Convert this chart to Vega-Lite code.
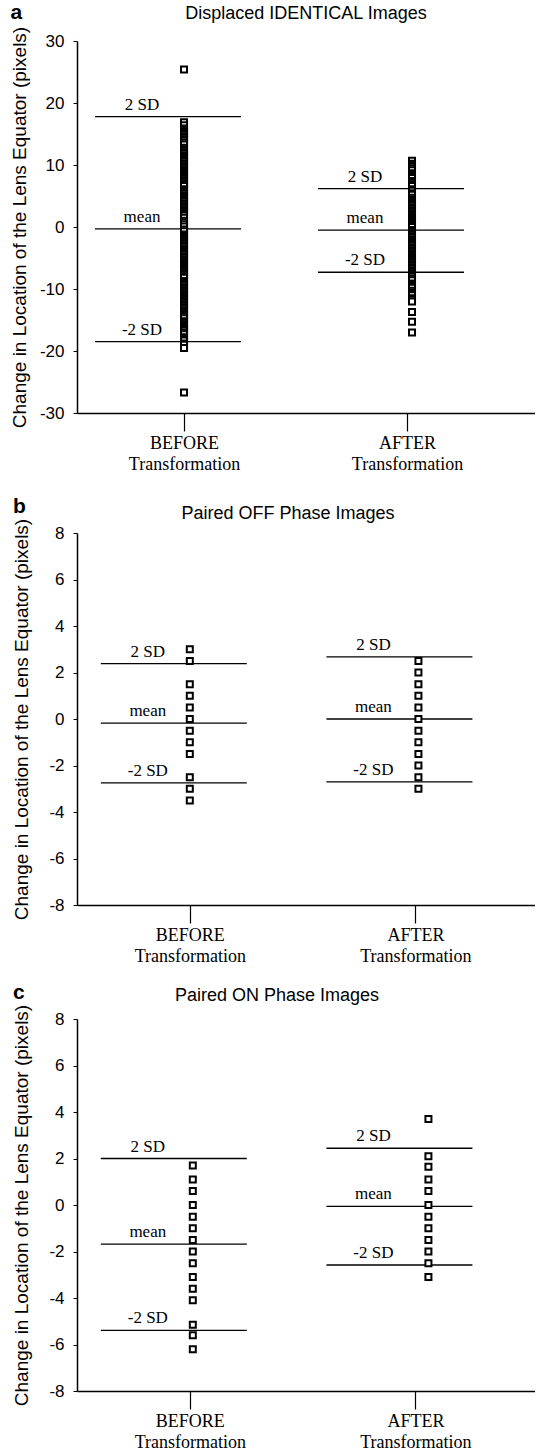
{
  "$schema": "https://vega.github.io/schema/vega-lite/v6.json",
  "padding": {"left": 10, "top": 2, "right": 0, "bottom": 0},
  "autosize": {"type": "pad"},
  "config": {
    "view": {"stroke": null},
    "font": "Liberation Sans",
    "axis": {"grid": false, "domainColor": "#000", "domainWidth": 1.5, "tickColor": "#000", "labelColor": "#000", "titleColor": "#000", "labelFont": "Liberation Sans", "labelFontSize": 17, "titleFont": "Liberation Sans", "titleFontSize": 19, "titleFontWeight": "normal"},
    "title": {"font": "Liberation Sans", "fontSize": 18, "fontWeight": "normal", "color": "#000"},
    "point": {"shape": "square", "filled": true, "fill": "#fff", "stroke": "#000", "strokeWidth": 2, "size": 36, "opacity": 1},
    "text": {"font": "Liberation Serif", "fontSize": 17, "dx": -42, "dy": -3, "baseline": "bottom", "align": "center", "color": "#000"}
  },
  "datasets": {
    "la": [{"g":1,"k":"2 SD","v":17.8},{"g":1,"k":"mean","v":-0.3},{"g":1,"k":"-2 SD","v":-18.5},{"g":2,"k":"2 SD","v":6.2},{"g":2,"k":"mean","v":-0.5},{"g":2,"k":"-2 SD","v":-7.3}],
    "lb": [{"g":1,"k":"2 SD","v":2.38},{"g":1,"k":"mean","v":-0.18},{"g":1,"k":"-2 SD","v":-2.75},{"g":2,"k":"2 SD","v":2.67},{"g":2,"k":"mean","v":0.0},{"g":2,"k":"-2 SD","v":-2.7}],
    "lc": [{"g":1,"k":"2 SD","v":2.0},{"g":1,"k":"mean","v":-1.68},{"g":1,"k":"-2 SD","v":-5.39},{"g":2,"k":"2 SD","v":2.44},{"g":2,"k":"mean","v":-0.06},{"g":2,"k":"-2 SD","v":-2.58}],
    "pa": [
      {"g":1,"v":25.4},
      {"g":1,"v":16.9},{"g":1,"v":16.4},{"g":1,"v":15.9},{"g":1,"v":15.65},{"g":1,"v":15.4},{"g":1,"v":15.15},{"g":1,"v":14.9},{"g":1,"v":14.65},{"g":1,"v":14.4},{"g":1,"v":14.15},{"g":1,"v":13.9},{"g":1,"v":13.6},{"g":1,"v":13.3},
      {"g":1,"v":12.8},{"g":1,"v":12.55},{"g":1,"v":12.3},{"g":1,"v":12.05},{"g":1,"v":11.8},{"g":1,"v":11.55},{"g":1,"v":11.3},{"g":1,"v":11.05},{"g":1,"v":10.8},{"g":1,"v":10.55},{"g":1,"v":10.3},{"g":1,"v":10.05},{"g":1,"v":9.8},{"g":1,"v":9.55},{"g":1,"v":9.3},{"g":1,"v":9.05},{"g":1,"v":8.8},{"g":1,"v":8.55},{"g":1,"v":8.3},{"g":1,"v":8.05},{"g":1,"v":7.8},{"g":1,"v":7.55},{"g":1,"v":7.3},{"g":1,"v":7.05},{"g":1,"v":6.85},{"g":1,"v":6.6},
      {"g":1,"v":6.1},{"g":1,"v":5.85},{"g":1,"v":5.6},{"g":1,"v":5.35},{"g":1,"v":5.1},{"g":1,"v":4.85},{"g":1,"v":4.6},{"g":1,"v":4.35},{"g":1,"v":4.1},{"g":1,"v":3.85},{"g":1,"v":3.6},{"g":1,"v":3.35},{"g":1,"v":3.1},{"g":1,"v":2.85},{"g":1,"v":2.6},{"g":1,"v":2.35},{"g":1,"v":2.1},{"g":1,"v":1.85},{"g":1,"v":1.5},
      {"g":1,"v":1.0},{"g":1,"v":0.75},{"g":1,"v":0.45},{"g":1,"v":0.1},{"g":1,"v":-0.4},{"g":1,"v":-0.7},
      {"g":1,"v":-1.2},{"g":1,"v":-1.45},{"g":1,"v":-1.7},{"g":1,"v":-1.95},{"g":1,"v":-2.2},{"g":1,"v":-2.45},{"g":1,"v":-2.7},{"g":1,"v":-2.95},{"g":1,"v":-3.2},{"g":1,"v":-3.45},{"g":1,"v":-3.7},{"g":1,"v":-3.95},{"g":1,"v":-4.2},{"g":1,"v":-4.45},{"g":1,"v":-4.7},{"g":1,"v":-4.95},{"g":1,"v":-5.2},{"g":1,"v":-5.45},{"g":1,"v":-5.7},{"g":1,"v":-5.95},{"g":1,"v":-6.2},{"g":1,"v":-6.45},{"g":1,"v":-6.7},{"g":1,"v":-6.95},{"g":1,"v":-7.2},{"g":1,"v":-7.45},{"g":1,"v":-7.7},{"g":1,"v":-7.95},{"g":1,"v":-8.2},
      {"g":1,"v":-8.7},{"g":1,"v":-8.95},{"g":1,"v":-9.2},{"g":1,"v":-9.45},{"g":1,"v":-9.7},{"g":1,"v":-9.95},{"g":1,"v":-10.2},{"g":1,"v":-10.45},{"g":1,"v":-10.7},{"g":1,"v":-10.95},{"g":1,"v":-11.2},{"g":1,"v":-11.45},{"g":1,"v":-11.7},{"g":1,"v":-11.95},{"g":1,"v":-12.2},{"g":1,"v":-12.45},{"g":1,"v":-12.7},{"g":1,"v":-12.95},{"g":1,"v":-13.2},{"g":1,"v":-13.45},{"g":1,"v":-13.7},{"g":1,"v":-13.95},{"g":1,"v":-14.2},{"g":1,"v":-14.45},{"g":1,"v":-14.7},
      {"g":1,"v":-15.2},{"g":1,"v":-15.45},{"g":1,"v":-15.7},{"g":1,"v":-15.95},{"g":1,"v":-16.2},{"g":1,"v":-16.45},{"g":1,"v":-16.7},{"g":1,"v":-17.0},{"g":1,"v":-17.3},
      {"g":1,"v":-17.8},{"g":1,"v":-18.05},{"g":1,"v":-18.3},{"g":1,"v":-18.8},{"g":1,"v":-19.0},{"g":1,"v":-19.5},
      {"g":1,"v":-26.7},
      {"g":2,"v":10.7},{"g":2,"v":10.2},{"g":2,"v":9.95},{"g":2,"v":9.7},{"g":2,"v":9.45},{"g":2,"v":9.15},{"g":2,"v":8.65},{"g":2,"v":8.4},{"g":2,"v":8.15},{"g":2,"v":7.9},{"g":2,"v":7.4},{"g":2,"v":7.15},{"g":2,"v":6.9},{"g":2,"v":6.6},{"g":2,"v":6.1},{"g":2,"v":5.85},{"g":2,"v":5.45},{"g":2,"v":5.2},
      {"g":2,"v":4.7},{"g":2,"v":4.45},{"g":2,"v":4.2},{"g":2,"v":3.95},{"g":2,"v":3.7},{"g":2,"v":3.45},{"g":2,"v":3.2},{"g":2,"v":2.95},{"g":2,"v":2.7},{"g":2,"v":2.45},{"g":2,"v":2.2},{"g":2,"v":1.95},{"g":2,"v":1.7},{"g":2,"v":1.45},{"g":2,"v":1.2},{"g":2,"v":0.95},{"g":2,"v":0.7},{"g":2,"v":0.5},{"g":2,"v":0.25},{"g":2,"v":0.0},
      {"g":2,"v":-0.5},{"g":2,"v":-0.75},{"g":2,"v":-1.0},{"g":2,"v":-1.25},{"g":2,"v":-1.5},{"g":2,"v":-1.75},{"g":2,"v":-2.0},{"g":2,"v":-2.25},{"g":2,"v":-2.5},{"g":2,"v":-2.75},{"g":2,"v":-3.0},{"g":2,"v":-3.25},{"g":2,"v":-3.5},{"g":2,"v":-3.75},{"g":2,"v":-4.0},{"g":2,"v":-4.25},{"g":2,"v":-4.5},{"g":2,"v":-4.75},{"g":2,"v":-5.0},{"g":2,"v":-5.25},{"g":2,"v":-5.5},{"g":2,"v":-5.75},{"g":2,"v":-6.0},{"g":2,"v":-6.25},{"g":2,"v":-6.5},{"g":2,"v":-6.75},{"g":2,"v":-7.0},{"g":2,"v":-7.25},{"g":2,"v":-7.5},{"g":2,"v":-7.75},{"g":2,"v":-8.0},{"g":2,"v":-8.3},{"g":2,"v":-8.6},
      {"g":2,"v":-9.1},{"g":2,"v":-9.35},{"g":2,"v":-9.55},{"g":2,"v":-9.8},{"g":2,"v":-10.3},{"g":2,"v":-10.55},{"g":2,"v":-10.75},{"g":2,"v":-11.0},{"g":2,"v":-11.5},{"g":2,"v":-11.75},{"g":2,"v":-12.0},
      {"g":2,"v":-13.7},{"g":2,"v":-15.3},{"g":2,"v":-17.0}
    ],
    "pb": [
      {"g":1,"v":3.0},{"g":1,"v":2.5},{"g":1,"v":1.5},{"g":1,"v":1.0},{"g":1,"v":0.5},{"g":1,"v":0.0},{"g":1,"v":-0.5},{"g":1,"v":-1.0},{"g":1,"v":-1.5},{"g":1,"v":-2.5},{"g":1,"v":-3.0},{"g":1,"v":-3.5},
      {"g":2,"v":2.5},{"g":2,"v":2.0},{"g":2,"v":1.5},{"g":2,"v":1.0},{"g":2,"v":0.5},{"g":2,"v":0.0},{"g":2,"v":-0.5},{"g":2,"v":-1.0},{"g":2,"v":-1.5},{"g":2,"v":-2.0},{"g":2,"v":-2.5},{"g":2,"v":-3.0}
    ],
    "pc": [
      {"g":1,"v":1.7},{"g":1,"v":1.1},{"g":1,"v":0.6},{"g":1,"v":0.0},{"g":1,"v":-0.5},{"g":1,"v":-1.0},{"g":1,"v":-1.5},{"g":1,"v":-2.0},{"g":1,"v":-2.5},{"g":1,"v":-3.1},{"g":1,"v":-3.6},{"g":1,"v":-4.1},{"g":1,"v":-5.15},{"g":1,"v":-5.6},{"g":1,"v":-6.2},
      {"g":2,"v":3.7},{"g":2,"v":2.1},{"g":2,"v":1.65},{"g":2,"v":1.1},{"g":2,"v":0.6},{"g":2,"v":0.0},{"g":2,"v":-0.5},{"g":2,"v":-1.0},{"g":2,"v":-1.5},{"g":2,"v":-2.0},{"g":2,"v":-2.5},{"g":2,"v":-3.1}
    ]
  },
  "spacing": 23,
  "vconcat": [
    {
      "title": {"text": "a", "anchor": "start", "frame": "bounds", "fontWeight": "bold", "fontSize": 21, "dy": 22},
      "vconcat": [
        {
          "width": 458, "height": 372,
          "title": {"text": "Displaced IDENTICAL Images", "anchor": "middle", "offset": 3},
          "layer": [
            {"mark": {"type": "rule", "color": "#000", "strokeWidth": 1.5}, "encoding": {"y": {"datum": 30, "type": "quantitative", "scale": {"domain": [-30, 30], "nice": false}}}},
            {"data": {"name": "la"}, "mark": {"type": "rule", "color": "#000", "strokeWidth": 1.3, "xOffset": -89, "x2Offset": 57},
             "encoding": {
               "x": {"field": "g", "type": "quantitative", "scale": {"domain": [0.52, 2.574], "nice": false, "zero": false},
                     "axis": {"values": [1, 2], "tickSize": 18, "tickWidth": 1.2, "labelExpr": "datum.value == 1 ? ['BEFORE','Transformation'] : ['AFTER','Transformation']", "labelFont": "Liberation Serif", "labelFontSize": 18, "labelLineHeight": 21, "labelPadding": 3, "labelOverlap": false, "labelFlush": false, "labelBound": false, "title": null}},
               "x2": {"field": "g"},
               "y": {"field": "v", "type": "quantitative", "scale": {"domain": [-30, 30], "nice": false},
                     "axis": {"values": [-30, -20, -10, 0, 10, 20, 30], "labelExpr": "'' + datum.value", "tickSize": 4, "labelPadding": 9, "titlePadding": 10, "title": "Change in Location of the Lens Equator (pixels)"}}
             }},
            {"data": {"name": "la"}, "mark": {"type": "text"},
             "encoding": {"x": {"field": "g", "type": "quantitative"}, "y": {"field": "v", "type": "quantitative"}, "text": {"field": "k"}}},
            {"data": {"name": "pa"}, "transform": [{"filter": "datum.g == 1"}], "mark": {"type": "point"},
             "encoding": {"x": {"field": "g", "type": "quantitative"}, "y": {"field": "v", "type": "quantitative"}}},
            {"data": {"name": "pa"}, "transform": [{"filter": "datum.g == 2"}], "mark": {"type": "point", "xOffset": 5},
             "encoding": {"x": {"field": "g", "type": "quantitative"}, "y": {"field": "v", "type": "quantitative"}}}
          ]
        }
      ]
    },
    {
      "spacing": 17,
      "vconcat": [
        {
          "title": {"text": "b", "anchor": "start", "frame": "bounds", "fontWeight": "bold", "fontSize": 21, "dy": 16},
          "vconcat": [
            {
              "width": 458, "height": 372,
              "title": {"text": "Paired OFF Phase Images", "anchor": "middle", "offset": -5, "dx": -18},
              "layer": [
                {"mark": {"type": "rule", "color": "#000", "strokeWidth": 1.5}, "encoding": {"y": {"datum": 8, "type": "quantitative", "scale": {"domain": [-8, 8], "nice": false}}}},
                {"data": {"name": "lb"}, "mark": {"type": "rule", "color": "#000", "strokeWidth": 1.3, "xOffset": -89, "x2Offset": 57},
                 "encoding": {
                   "x": {"field": "g", "type": "quantitative", "scale": {"domain": [0.5, 2.53], "nice": false, "zero": false},
                         "axis": {"values": [1, 2], "tickSize": 18, "tickWidth": 1.2, "labelExpr": "datum.value == 1 ? ['BEFORE','Transformation'] : ['AFTER','Transformation']", "labelFont": "Liberation Serif", "labelFontSize": 18, "labelLineHeight": 21, "labelPadding": 3, "labelOverlap": false, "labelFlush": false, "labelBound": false, "title": null}},
                   "x2": {"field": "g"},
                   "y": {"field": "v", "type": "quantitative", "scale": {"domain": [-8, 8], "nice": false},
                         "axis": {"values": [-8, -7, -6, -5, -4, -3, -2, -1, 0, 1, 2, 3, 4, 5, 6, 7, 8], "labelExpr": "'' + datum.value", "tickSize": 4, "labelPadding": 9, "titlePadding": 17, "title": "Change in Location of the Lens Equator (pixels)"}}
                 }},
                {"data": {"name": "lb"}, "mark": {"type": "text"},
                 "encoding": {"x": {"field": "g", "type": "quantitative"}, "y": {"field": "v", "type": "quantitative"}, "text": {"field": "k"}}},
                {"data": {"name": "pb"}, "transform": [{"filter": "datum.g == 1"}], "mark": {"type": "point"},
                 "encoding": {"x": {"field": "g", "type": "quantitative"}, "y": {"field": "v", "type": "quantitative"}}},
                {"data": {"name": "pb"}, "transform": [{"filter": "datum.g == 2"}], "mark": {"type": "point", "xOffset": 3},
                 "encoding": {"x": {"field": "g", "type": "quantitative"}, "y": {"field": "v", "type": "quantitative"}}}
              ]
            }
          ]
        },
        {
          "title": {"text": "c", "anchor": "start", "frame": "bounds", "fontWeight": "bold", "fontSize": 21, "dy": 20},
          "vconcat": [
            {
              "width": 458, "height": 372,
              "title": {"text": "Paired ON Phase Images", "anchor": "middle", "offset": -1, "dx": -29},
              "layer": [
                {"mark": {"type": "rule", "color": "#000", "strokeWidth": 1.5}, "encoding": {"y": {"datum": 8, "type": "quantitative", "scale": {"domain": [-8, 8], "nice": false}}}},
                {"data": {"name": "lc"}, "mark": {"type": "rule", "color": "#000", "strokeWidth": 1.3, "xOffset": -89, "x2Offset": 57},
                 "encoding": {
                   "x": {"field": "g", "type": "quantitative", "scale": {"domain": [0.5, 2.53], "nice": false, "zero": false},
                         "axis": {"values": [1, 2], "tickSize": 18, "tickWidth": 1.2, "labelExpr": "datum.value == 1 ? ['BEFORE','Transformation'] : ['AFTER','Transformation']", "labelFont": "Liberation Serif", "labelFontSize": 18, "labelLineHeight": 21, "labelPadding": 3, "labelOverlap": false, "labelFlush": false, "labelBound": false, "title": null}},
                   "x2": {"field": "g"},
                   "y": {"field": "v", "type": "quantitative", "scale": {"domain": [-8, 8], "nice": false},
                         "axis": {"values": [-8, -6, -4, -2, 0, 2, 4, 6, 8], "labelExpr": "'' + datum.value", "tickSize": 4, "labelPadding": 9, "titlePadding": 17, "title": "Change in Location of the Lens Equator (pixels)"}}
                 }},
                {"data": {"name": "lc"}, "mark": {"type": "text"},
                 "encoding": {"x": {"field": "g", "type": "quantitative"}, "y": {"field": "v", "type": "quantitative"}, "text": {"field": "k"}}},
                {"data": {"name": "pc"}, "transform": [{"filter": "datum.g == 1"}], "mark": {"type": "point", "xOffset": 3},
                 "encoding": {"x": {"field": "g", "type": "quantitative"}, "y": {"field": "v", "type": "quantitative"}}},
                {"data": {"name": "pc"}, "transform": [{"filter": "datum.g == 2"}], "mark": {"type": "point", "xOffset": 13},
                 "encoding": {"x": {"field": "g", "type": "quantitative"}, "y": {"field": "v", "type": "quantitative"}}}
              ]
            }
          ]
        }
      ]
    }
  ]
}
